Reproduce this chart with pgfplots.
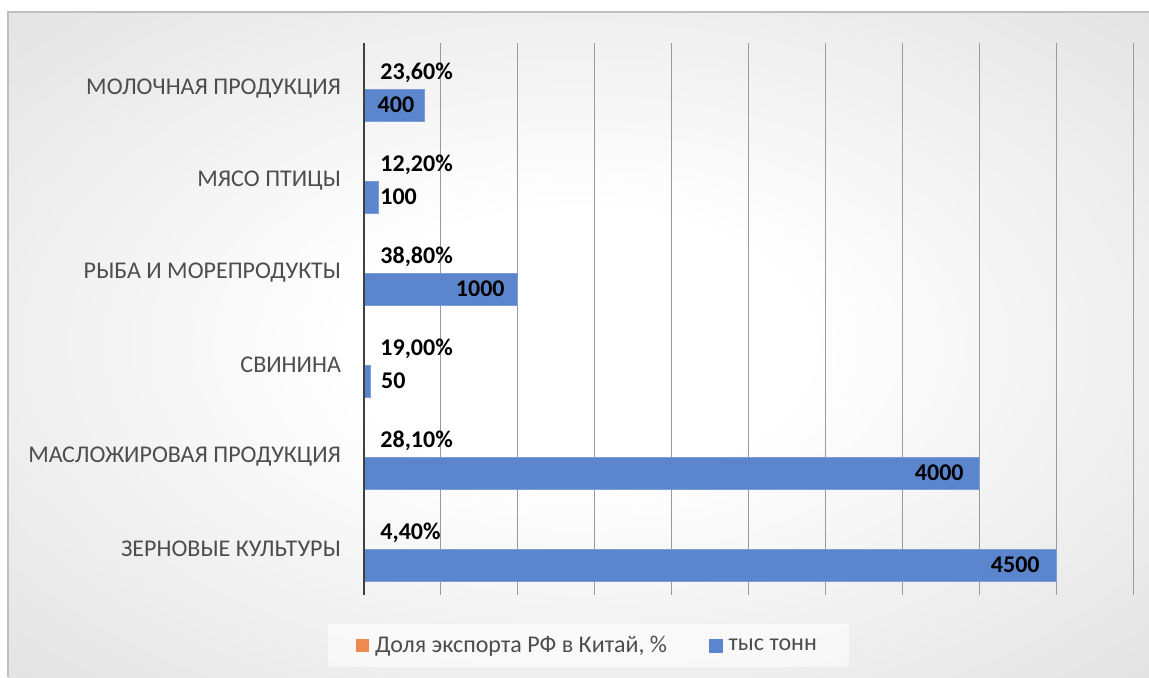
\documentclass[border=0pt]{standalone}
\usepackage{fontspec}
\setmainfont{Carlito}
\usepackage{pgfplots}
\usepackage{pgfplotstable}
\pgfplotsset{compat=1.18}

\definecolor{barblue}{HTML}{5B85CD}
\definecolor{barorange}{HTML}{EE8A4F}
\definecolor{labgray}{HTML}{4D4D4D}
\definecolor{axisdark}{HTML}{404040}
\definecolor{gridgray}{HTML}{9A9A9A}

\pgfdeclareradialshading{chartbg}{\pgfpoint{0bp}{0bp}}{%
 color(0bp)=(white); color(10bp)=(white); color(50bp)=(black!17); color(71bp)=(black!23)}

% cat 0 = bottom row; dx = shift of the tonnes label (<0 inside the bar end)
\pgfplotstableread{
cat tonnes pct dx
0 4500 4.4 -8
1 4000 28.1 -7.5
2 50 19.0 5
3 1000 38.8 -6
4 100 12.2 0.8
5 400 23.6 -5
}\exports

\begin{document}
\begin{tikzpicture}
\useasboundingbox (0,0) rectangle (574.5pt,338.5pt);
\fill[white] (0,0) rectangle (574.5pt,338.5pt);
\shade[shading=chartbg] (4pt,0pt) rectangle (574.5pt,332.5pt);
\draw[black!25,line width=0.6pt] (4pt,0pt) -- (4pt,332.5pt) -- (574.5pt,332.5pt);
\begin{axis}[
 at={(181.5pt,41pt)},anchor=south west,scale only axis,
 width=385pt,height=276pt,
 xbar,bar width=16pt,
 xmin=0,xmax=5000,ymin=-0.5,ymax=5.5,
 xtick={0,500,...,5000},xticklabels={},
 xmajorgrids,grid style={gridgray,line width=0.5pt},
 major tick length=0pt,
 ytick={0,...,5},
 yticklabels={ЗЕРНОВЫЕ КУЛЬТУРЫ,МАСЛОЖИРОВАЯ ПРОДУКЦИЯ,СВИНИНА,РЫБА И МОРЕПРОДУКТЫ,МЯСО ПТИЦЫ,МОЛОЧНАЯ ПРОДУКЦИЯ},
 yticklabel style={font=\fontsize{12}{14}\selectfont,text=labgray,xshift=-7.5pt},
 axis line style={draw=none},
 /pgf/number format/assume math mode=true,
 /pgf/number format/1000 sep={},
 legend style={at={(0.293,-0.092)},anchor=center,legend columns=2,
  draw=none,fill=white,fill opacity=0.6,text opacity=1,
  font=\fontsize{12}{14}\selectfont,text=labgray,
  inner xsep=14pt,inner ysep=4pt,
  /tikz/every even column/.append style={column sep=19pt}},
]
\addplot[fill=barorange,draw=none,bar shift=8pt,
 point meta=\thisrow{pct},
 nodes near coords={\pgfmathprintnumber[fixed,fixed zerofill,precision=2,use comma]{\pgfplotspointmeta}\%},
 every node near coord/.append style={anchor=west,inner sep=0pt,xshift=8.5pt,
  font=\fontsize{12}{14}\selectfont\bfseries,text=black},
 legend image code/.code={\fill[barorange,fill opacity=1] (0pt,-3.2pt) rectangle (6.4pt,3.2pt); \path (7.4pt,0pt);}]
 table[x expr=\thisrow{pct}/100,y=cat]{\exports};
\addlegendentry{Доля экспорта РФ в Китай, \%}
\addplot[fill=barblue,draw=barblue!80!white,bar shift=-8pt,
 point meta=x,nodes near coords,
 visualization depends on={\thisrow{dx} \as \labdx},
 every node near coord/.append style={
  /utils/exec={\ifdim\labdx pt<0pt \def\labanc{east}\else\def\labanc{west}\fi},
  anchor=\labanc,inner sep=0pt,xshift=\labdx pt,
  font=\fontsize{12}{14}\selectfont\bfseries,text=black},
 legend image code/.code={\fill[barblue,fill opacity=1] (0pt,-3.2pt) rectangle (6.4pt,3.2pt); \path (7.4pt,0pt);}]
 table[x=tonnes,y=cat]{\exports};
\addlegendentry{тыс тонн}
\draw[axisdark,line width=1.5pt] (axis cs:0,-0.5) -- (axis cs:0,5.5);
\end{axis}
\end{tikzpicture}
\end{document}
